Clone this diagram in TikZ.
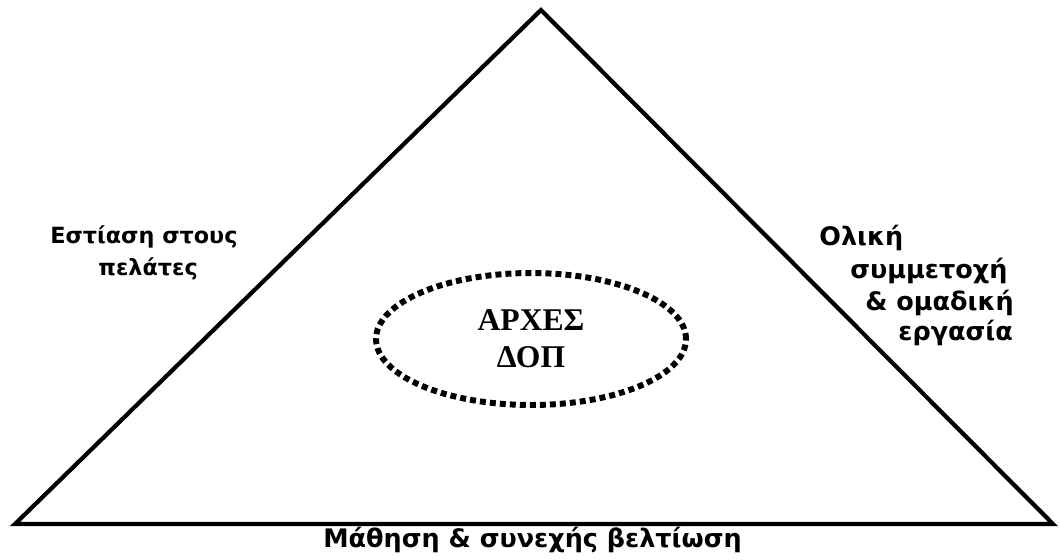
\documentclass[tikz,border=0pt]{standalone}
\usepackage{fontspec}
\setmainfont{DejaVu Sans}
\newfontfamily\timesgr{Liberation Serif}
\usetikzlibrary{shapes.geometric}

\begin{document}
\begin{tikzpicture}[
x=0.02cm,y=-0.02cm,
lbl/.style={font=\fontsize{14.5}{17}\selectfont\bfseries, anchor=base west, inner sep=0pt},
small/.style={lbl, font=\fontsize{12.7}{15}\selectfont\bfseries},
core/.style={ellipse, draw, line width=3.4pt, dash pattern=on 3.4pt off 2.3pt, minimum width=6.2cm, minimum height=2.64cm, inner sep=0pt, align=center, font=\fontsize{18}{21}\selectfont\timesgr\bfseries},
edge/.style={line width=2.4pt, line join=miter}
]
\useasboundingbox (0,0) rectangle (1060,559);
% pyramid
\coordinate (apex) at (541,10);
\coordinate (left) at (15,524);
\coordinate (right) at (1053,524);
\draw[edge] (apex) -- (right) -- (left) -- cycle;
% centre
\node[core] (core) at (531,339) {ΑΡΧΕΣ\\ΔΟΠ};
% sides
\node[small] (l1) at (50,243) {Εστίαση στους};
\node[small] (l2) at (98,275) {πελάτες};
\node[lbl] (r1) at (819,245) {Ολική};
\node[lbl] (r2) at (850,278) {συμμετοχή};
\node[lbl] (r3) at (865,310) {\& ομαδική};
\node[lbl] (r4) at (898,340) {εργασία};
\node[lbl] (base) at (323,547) {Μάθηση \& συνεχής βελτίωση};
\end{tikzpicture}
\end{document}
